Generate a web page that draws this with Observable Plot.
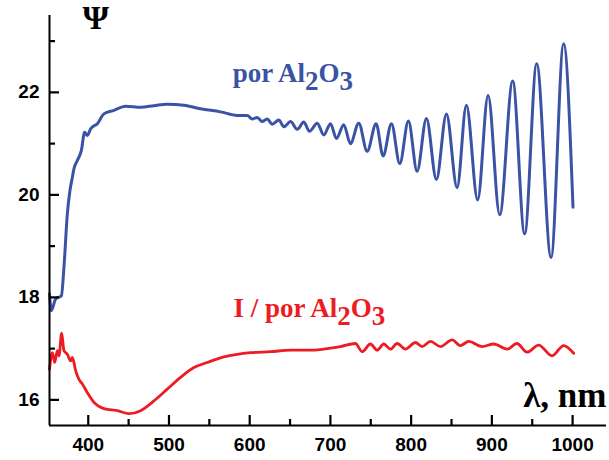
<!DOCTYPE html>
<html>
<head>
<meta charset="utf-8">
<script src="https://cdn.jsdelivr.net/npm/d3@7"></script>
<script src="https://cdn.jsdelivr.net/npm/@observablehq/plot@0.6"></script>
<style>
  body { margin: 0; background: #fff; }
</style>
</head>
<body>
<div id="chart"></div>
<script>
// Ellipsometric angle Ψ versus wavelength for porous alumina with and without the film
const porWavelength = [352, 354.3, 359.6, 366.7, 369.9, 374.1, 377.3, 380.3, 382.3, 386.5, 391.5, 395.5, 398.9, 403, 411.3, 419.4, 431.8, 446.3, 464.9, 481.3, 497.9, 518.5, 539.1, 563.9, 584.6, 597, 603.1, 609.3, 615.5, 621.7, 627.9, 636.1, 642.3, 650.6, 658.9, 667, 674.1, 683.6, 691.8, 700.1, 707.5, 716.5, 724.8, 735.1, 745.5, 756.6, 765.3, 775.6, 785.9, 796.6, 807.4, 818.9, 831.3, 843.7, 856.9, 868.4, 882.4, 895.3, 909.7, 925.8, 940.6, 955.5, 973.3, 988.9, 1000.5];
const porPsi = [18.07, 17.74, 17.97, 18.03, 18.59, 19.63, 20.08, 20.34, 20.51, 20.67, 20.87, 21.22, 21.16, 21.29, 21.39, 21.58, 21.65, 21.73, 21.71, 21.74, 21.77, 21.75, 21.68, 21.62, 21.55, 21.55, 21.48, 21.51, 21.43, 21.48, 21.38, 21.46, 21.33, 21.43, 21.28, 21.42, 21.24, 21.40, 21.17, 21.39, 21.10, 21.37, 21.00, 21.40, 20.85, 21.39, 20.76, 21.39, 20.61, 21.44, 20.46, 21.49, 20.30, 21.58, 20.14, 21.75, 19.90, 21.94, 19.61, 22.22, 19.24, 22.56, 18.78, 22.95, 19.76];

const filmWavelength = [352, 355.6, 358.4, 361.7, 363.7, 367.1, 369.9, 374.1, 378.2, 380.3, 384.4, 388.5, 392.7, 398.9, 407.1, 419.4, 436, 450.4, 464.9, 481.3, 497.9, 514.4, 530.9, 547.4, 568, 584.6, 601, 625.8, 650.6, 675.3, 700.1, 712.5, 731, 739.3, 749.6, 757.9, 766.1, 774.4, 782.6, 792.9, 805.3, 813.6, 823.9, 836.3, 850.7, 861, 871.3, 887.9, 902.3, 918.8, 931.2, 943.6, 957.9, 974.5, 988.9, 1001.3];
const filmPsi = [16.60, 16.92, 16.73, 16.96, 16.86, 17.30, 16.96, 16.89, 16.76, 16.83, 16.57, 16.40, 16.31, 16.14, 15.95, 15.83, 15.79, 15.73, 15.79, 15.98, 16.21, 16.44, 16.63, 16.73, 16.84, 16.89, 16.92, 16.94, 16.97, 16.97, 17.01, 17.04, 17.10, 16.94, 17.09, 16.97, 17.09, 16.99, 17.10, 16.99, 17.12, 17.04, 17.14, 17.04, 17.17, 17.06, 17.14, 17.04, 17.09, 16.99, 17.10, 16.93, 17.07, 16.86, 17.06, 16.91];

// Curve labels ("_n" marks a subscript digit)
const seriesLabels = ["por Al_2O_3", "I / por Al_2O_3"];
const labelWavelength = [579, 580];
const labelPsi = [22.38, 17.78];
const seriesColors = ["#3a53a4", "#ed1c24"];

// Axes
const xDomain = [352, 1042];
const yDomain = [15.5, 23.5];
const xMajor = [400, 500, 600, 700, 800, 900, 1000];
const xMinor = [450, 550, 650, 750, 850, 950];
const yMajor = [16, 18, 20, 22];
const yMinor = [17, 19, 21, 23];
const yTitle = "Ψ";
const xTitle = "λ, nm";

const W = 609, H = 460;
const margin = {top: 15, right: 3, bottom: 35, left: 49};

const porData = porWavelength.map((x, i) => ({x, y: porPsi[i]}));
const filmData = filmWavelength.map((x, i) => ({x, y: filmPsi[i]}));
const labels = seriesLabels.map((text, i) => ({text, x: labelWavelength[i], y: labelPsi[i], color: seriesColors[i]}));

const serif = "'Liberation Serif', 'Times New Roman', serif";

// Inward-pointing tick marks: a tick of `size` pixels converted to data units
const xPerPx = (xDomain[1] - xDomain[0]) / (W - margin.left - margin.right);
const yPerPx = (yDomain[1] - yDomain[0]) / (H - margin.top - margin.bottom);
const ticksX = (values, size) =>
  Plot.ruleX(values, {x: d => d, y1: yDomain[0], y2: yDomain[0] + size * yPerPx, stroke: "#000", strokeWidth: 2.2});
const ticksY = (values, size) =>
  Plot.ruleY(values, {y: d => d, x1: xDomain[0], x2: xDomain[0] + size * xPerPx, stroke: "#000", strokeWidth: 2.2});

const chart = Plot.plot({
  width: W,
  height: H,
  marginLeft: margin.left,
  marginRight: margin.right,
  marginTop: margin.top,
  marginBottom: margin.bottom,
  style: {fontFamily: "'Liberation Sans', Arial, sans-serif", fontSize: "19px", fontWeight: "bold", color: "#000", background: "#fff"},
  x: {domain: xDomain},
  y: {domain: yDomain},
  marks: [
    Plot.line(porData, {x: "x", y: "y", stroke: seriesColors[0], strokeWidth: 3, curve: "monotone-x"}),
    Plot.line(filmData, {x: "x", y: "y", stroke: seriesColors[1], strokeWidth: 2.8, curve: "monotone-x"}),
    Plot.axisX(xMajor, {anchor: "bottom", tickSize: 0, tickPadding: 12, tickFormat: d3.format("d"), label: null}),
    Plot.axisY(yMajor, {anchor: "left", tickSize: 0, tickPadding: 10, tickFormat: d3.format("d"), label: null}),
    ticksX(xMajor, 10),
    ticksX(xMinor, 6),
    ticksY(yMajor, 10),
    ticksY(yMinor, 6),
    Plot.ruleY([yDomain[0]], {stroke: "#000", strokeWidth: 2}),
    Plot.ruleX([xDomain[0]], {stroke: "#000", strokeWidth: 2}),
    Plot.text(labels, {x: "x", y: "y", text: "text", fill: "color", textAnchor: "start", lineAnchor: "middle", fontSize: 27, fontFamily: serif, fontWeight: "bold"}),
    Plot.text([yTitle], {frameAnchor: "top-left", dx: 33, dy: -11, textAnchor: "start", lineAnchor: "top", fontSize: 34, fontFamily: serif, fontWeight: "bold"}),
    Plot.text([xTitle], {frameAnchor: "bottom-right", dy: -30, textAnchor: "end", lineAnchor: "middle", fontSize: 35, fontFamily: serif, fontWeight: "bold"})
  ]
});

// Turn "_n" into lowered subscript digits
d3.select(chart).selectAll("text").each(function () {
  const content = this.textContent;
  if (!/_\d/.test(content)) return;
  const parts = content.split(/_(\d)/);
  const node = d3.select(this).text(null);
  let shift = 0;
  parts.forEach((part, i) => {
    if (!part) return;
    const target = i % 2 === 1 ? 8 : 0;
    node.append("tspan").attr("dy", target - shift).text(part);
    shift = target;
  });
});

document.getElementById("chart").append(chart);
</script>
</body>
</html>
